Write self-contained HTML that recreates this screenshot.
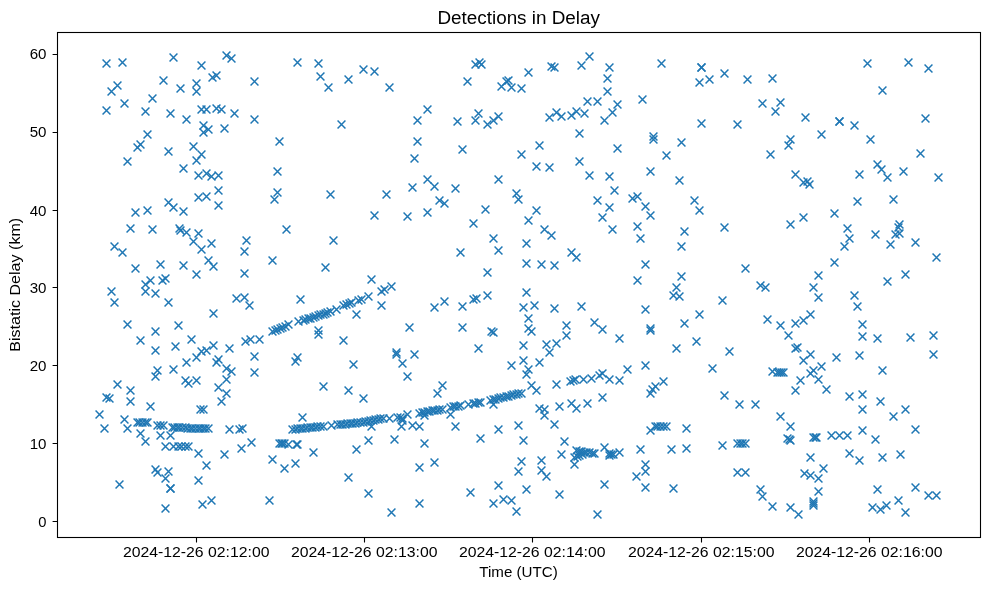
<!DOCTYPE html><html><head><meta charset="utf-8"><title>Detections in Delay</title><style>html,body{margin:0;padding:0;background:#fff}body{width:989px;height:590px;overflow:hidden;font-family:"Liberation Sans",sans-serif}</style></head><body><svg width="989" height="590" viewBox="0 0 989 590" style="display:block;will-change:transform"><rect width="989" height="590" fill="#fff"/><defs><path id="m" d="M-3.95 -3.95L3.95 3.95M-3.95 3.95L3.95 -3.95"/></defs><g stroke="#1f77b4" stroke-width="1.5" fill="none"><use href="#m" x="106.5" y="63.5"/><use href="#m" x="122.5" y="62.5"/><use href="#m" x="173.5" y="57.5"/><use href="#m" x="201.5" y="65.5"/><use href="#m" x="226.5" y="55.5"/><use href="#m" x="231.5" y="58.5"/><use href="#m" x="216.5" y="75.5"/><use href="#m" x="212.5" y="77.5"/><use href="#m" x="254.5" y="81.5"/><use href="#m" x="163.5" y="80.5"/><use href="#m" x="117.5" y="85.5"/><use href="#m" x="111.5" y="91.5"/><use href="#m" x="180.5" y="88.5"/><use href="#m" x="196.5" y="83.5"/><use href="#m" x="196.5" y="91.5"/><use href="#m" x="152.5" y="98.5"/><use href="#m" x="124.5" y="103.5"/><use href="#m" x="106.5" y="110.5"/><use href="#m" x="145.5" y="111.5"/><use href="#m" x="170.5" y="113.5"/><use href="#m" x="201.5" y="109.5"/><use href="#m" x="206.5" y="109.5"/><use href="#m" x="216.5" y="108.5"/><use href="#m" x="221.5" y="109.5"/><use href="#m" x="234.5" y="113.5"/><use href="#m" x="254.5" y="119.5"/><use href="#m" x="186.5" y="119.5"/><use href="#m" x="203.5" y="125.5"/><use href="#m" x="208.5" y="129.5"/><use href="#m" x="203.5" y="132.5"/><use href="#m" x="224.5" y="128.5"/><use href="#m" x="147.5" y="134.5"/><use href="#m" x="140.5" y="144.5"/><use href="#m" x="137.5" y="147.5"/><use href="#m" x="168.5" y="151.5"/><use href="#m" x="193.5" y="146.5"/><use href="#m" x="201.5" y="154.5"/><use href="#m" x="196.5" y="160.5"/><use href="#m" x="127.5" y="161.5"/><use href="#m" x="279.5" y="141.5"/><use href="#m" x="297.5" y="62.5"/><use href="#m" x="318.5" y="63.5"/><use href="#m" x="320.5" y="76.5"/><use href="#m" x="328.5" y="87.5"/><use href="#m" x="348.5" y="79.5"/><use href="#m" x="363.5" y="69.5"/><use href="#m" x="374.5" y="71.5"/><use href="#m" x="389.5" y="87.5"/><use href="#m" x="341.5" y="124.5"/><use href="#m" x="427.5" y="109.5"/><use href="#m" x="417.5" y="120.5"/><use href="#m" x="417.5" y="141.5"/><use href="#m" x="414.5" y="158.5"/><use href="#m" x="457.5" y="121.5"/><use href="#m" x="462.5" y="149.5"/><use href="#m" x="467.5" y="81.5"/><use href="#m" x="475.5" y="64.5"/><use href="#m" x="479.5" y="62.5"/><use href="#m" x="481.5" y="64.5"/><use href="#m" x="478.5" y="113.5"/><use href="#m" x="475.5" y="120.5"/><use href="#m" x="487.5" y="124.5"/><use href="#m" x="589.5" y="56.5"/><use href="#m" x="581.5" y="65.5"/><use href="#m" x="609.5" y="67.5"/><use href="#m" x="661.5" y="63.5"/><use href="#m" x="528.5" y="72.5"/><use href="#m" x="551.5" y="66.5"/><use href="#m" x="554.5" y="67.5"/><use href="#m" x="607.5" y="78.5"/><use href="#m" x="607.5" y="91.5"/><use href="#m" x="501.5" y="86.5"/><use href="#m" x="506.5" y="81.5"/><use href="#m" x="508.5" y="80.5"/><use href="#m" x="511.5" y="87.5"/><use href="#m" x="521.5" y="88.5"/><use href="#m" x="587.5" y="101.5"/><use href="#m" x="597.5" y="101.5"/><use href="#m" x="617.5" y="104.5"/><use href="#m" x="642.5" y="99.5"/><use href="#m" x="612.5" y="112.5"/><use href="#m" x="604.5" y="120.5"/><use href="#m" x="498.5" y="116.5"/><use href="#m" x="493.5" y="120.5"/><use href="#m" x="549.5" y="117.5"/><use href="#m" x="556.5" y="112.5"/><use href="#m" x="561.5" y="116.5"/><use href="#m" x="571.5" y="115.5"/><use href="#m" x="576.5" y="111.5"/><use href="#m" x="584.5" y="113.5"/><use href="#m" x="579.5" y="133.5"/><use href="#m" x="539.5" y="145.5"/><use href="#m" x="521.5" y="154.5"/><use href="#m" x="617.5" y="148.5"/><use href="#m" x="653.5" y="136.5"/><use href="#m" x="653.5" y="139.5"/><use href="#m" x="681.5" y="142.5"/><use href="#m" x="666.5" y="155.5"/><use href="#m" x="579.5" y="161.5"/><use href="#m" x="701.5" y="67.5"/><use href="#m" x="701.5" y="67.5"/><use href="#m" x="699.5" y="82.5"/><use href="#m" x="709.5" y="79.5"/><use href="#m" x="724.5" y="73.5"/><use href="#m" x="747.5" y="79.5"/><use href="#m" x="772.5" y="78.5"/><use href="#m" x="867.5" y="63.5"/><use href="#m" x="882.5" y="90.5"/><use href="#m" x="762.5" y="103.5"/><use href="#m" x="780.5" y="102.5"/><use href="#m" x="775.5" y="111.5"/><use href="#m" x="805.5" y="117.5"/><use href="#m" x="701.5" y="123.5"/><use href="#m" x="737.5" y="124.5"/><use href="#m" x="839.5" y="121.5"/><use href="#m" x="839.5" y="121.5"/><use href="#m" x="854.5" y="125.5"/><use href="#m" x="821.5" y="134.5"/><use href="#m" x="870.5" y="139.5"/><use href="#m" x="790.5" y="139.5"/><use href="#m" x="788.5" y="145.5"/><use href="#m" x="770.5" y="154.5"/><use href="#m" x="908.5" y="62.5"/><use href="#m" x="928.5" y="68.5"/><use href="#m" x="925.5" y="118.5"/><use href="#m" x="920.5" y="153.5"/><use href="#m" x="183.5" y="168.5"/><use href="#m" x="198.5" y="175.5"/><use href="#m" x="206.5" y="173.5"/><use href="#m" x="211.5" y="176.5"/><use href="#m" x="218.5" y="175.5"/><use href="#m" x="277.5" y="171.5"/><use href="#m" x="218.5" y="190.5"/><use href="#m" x="198.5" y="197.5"/><use href="#m" x="206.5" y="196.5"/><use href="#m" x="218.5" y="205.5"/><use href="#m" x="277.5" y="192.5"/><use href="#m" x="274.5" y="199.5"/><use href="#m" x="168.5" y="202.5"/><use href="#m" x="173.5" y="207.5"/><use href="#m" x="183.5" y="211.5"/><use href="#m" x="147.5" y="210.5"/><use href="#m" x="135.5" y="212.5"/><use href="#m" x="130.5" y="228.5"/><use href="#m" x="152.5" y="229.5"/><use href="#m" x="179.5" y="228.5"/><use href="#m" x="180.5" y="230.5"/><use href="#m" x="186.5" y="232.5"/><use href="#m" x="198.5" y="233.5"/><use href="#m" x="193.5" y="241.5"/><use href="#m" x="211.5" y="243.5"/><use href="#m" x="201.5" y="249.5"/><use href="#m" x="286.5" y="229.5"/><use href="#m" x="246.5" y="240.5"/><use href="#m" x="244.5" y="251.5"/><use href="#m" x="114.5" y="246.5"/><use href="#m" x="122.5" y="252.5"/><use href="#m" x="208.5" y="260.5"/><use href="#m" x="213.5" y="266.5"/><use href="#m" x="272.5" y="260.5"/><use href="#m" x="160.5" y="264.5"/><use href="#m" x="183.5" y="265.5"/><use href="#m" x="135.5" y="268.5"/><use href="#m" x="196.5" y="274.5"/><use href="#m" x="244.5" y="273.5"/><use href="#m" x="150.5" y="280.5"/><use href="#m" x="162.5" y="280.5"/><use href="#m" x="165.5" y="278.5"/><use href="#m" x="330.5" y="194.5"/><use href="#m" x="386.5" y="194.5"/><use href="#m" x="412.5" y="187.5"/><use href="#m" x="427.5" y="179.5"/><use href="#m" x="434.5" y="186.5"/><use href="#m" x="455.5" y="188.5"/><use href="#m" x="439.5" y="200.5"/><use href="#m" x="444.5" y="203.5"/><use href="#m" x="427.5" y="212.5"/><use href="#m" x="407.5" y="216.5"/><use href="#m" x="374.5" y="215.5"/><use href="#m" x="485.5" y="209.5"/><use href="#m" x="473.5" y="223.5"/><use href="#m" x="333.5" y="240.5"/><use href="#m" x="460.5" y="252.5"/><use href="#m" x="325.5" y="267.5"/><use href="#m" x="371.5" y="279.5"/><use href="#m" x="487.5" y="272.5"/><use href="#m" x="536.5" y="166.5"/><use href="#m" x="549.5" y="167.5"/><use href="#m" x="498.5" y="179.5"/><use href="#m" x="589.5" y="175.5"/><use href="#m" x="609.5" y="176.5"/><use href="#m" x="650.5" y="171.5"/><use href="#m" x="679.5" y="180.5"/><use href="#m" x="614.5" y="190.5"/><use href="#m" x="516.5" y="193.5"/><use href="#m" x="518.5" y="199.5"/><use href="#m" x="597.5" y="200.5"/><use href="#m" x="609.5" y="207.5"/><use href="#m" x="632.5" y="198.5"/><use href="#m" x="637.5" y="196.5"/><use href="#m" x="645.5" y="206.5"/><use href="#m" x="650.5" y="215.5"/><use href="#m" x="536.5" y="210.5"/><use href="#m" x="528.5" y="220.5"/><use href="#m" x="602.5" y="217.5"/><use href="#m" x="612.5" y="229.5"/><use href="#m" x="637.5" y="226.5"/><use href="#m" x="640.5" y="238.5"/><use href="#m" x="684.5" y="231.5"/><use href="#m" x="681.5" y="246.5"/><use href="#m" x="544.5" y="229.5"/><use href="#m" x="551.5" y="235.5"/><use href="#m" x="493.5" y="238.5"/><use href="#m" x="498.5" y="250.5"/><use href="#m" x="526.5" y="243.5"/><use href="#m" x="571.5" y="252.5"/><use href="#m" x="576.5" y="257.5"/><use href="#m" x="526.5" y="263.5"/><use href="#m" x="541.5" y="264.5"/><use href="#m" x="554.5" y="265.5"/><use href="#m" x="645.5" y="264.5"/><use href="#m" x="637.5" y="280.5"/><use href="#m" x="681.5" y="276.5"/><use href="#m" x="795.5" y="174.5"/><use href="#m" x="803.5" y="182.5"/><use href="#m" x="807.5" y="181.5"/><use href="#m" x="809.5" y="184.5"/><use href="#m" x="859.5" y="174.5"/><use href="#m" x="877.5" y="164.5"/><use href="#m" x="881.5" y="169.5"/><use href="#m" x="857.5" y="201.5"/><use href="#m" x="694.5" y="200.5"/><use href="#m" x="699.5" y="210.5"/><use href="#m" x="724.5" y="227.5"/><use href="#m" x="803.5" y="217.5"/><use href="#m" x="790.5" y="224.5"/><use href="#m" x="834.5" y="213.5"/><use href="#m" x="847.5" y="228.5"/><use href="#m" x="849.5" y="238.5"/><use href="#m" x="844.5" y="246.5"/><use href="#m" x="875.5" y="234.5"/><use href="#m" x="834.5" y="262.5"/><use href="#m" x="745.5" y="268.5"/><use href="#m" x="818.5" y="275.5"/><use href="#m" x="887.5" y="177.5"/><use href="#m" x="903.5" y="171.5"/><use href="#m" x="938.5" y="177.5"/><use href="#m" x="893.5" y="199.5"/><use href="#m" x="899.5" y="224.5"/><use href="#m" x="898.5" y="227.5"/><use href="#m" x="895.5" y="234.5"/><use href="#m" x="899.5" y="233.5"/><use href="#m" x="890.5" y="244.5"/><use href="#m" x="915.5" y="242.5"/><use href="#m" x="936.5" y="257.5"/><use href="#m" x="905.5" y="274.5"/><use href="#m" x="887.5" y="281.5"/><use href="#m" x="145.5" y="284.5"/><use href="#m" x="145.5" y="291.5"/><use href="#m" x="155.5" y="293.5"/><use href="#m" x="111.5" y="291.5"/><use href="#m" x="114.5" y="302.5"/><use href="#m" x="168.5" y="302.5"/><use href="#m" x="236.5" y="298.5"/><use href="#m" x="244.5" y="297.5"/><use href="#m" x="249.5" y="305.5"/><use href="#m" x="213.5" y="313.5"/><use href="#m" x="127.5" y="324.5"/><use href="#m" x="178.5" y="325.5"/><use href="#m" x="155.5" y="331.5"/><use href="#m" x="140.5" y="340.5"/><use href="#m" x="191.5" y="339.5"/><use href="#m" x="175.5" y="346.5"/><use href="#m" x="155.5" y="350.5"/><use href="#m" x="213.5" y="345.5"/><use href="#m" x="229.5" y="348.5"/><use href="#m" x="201.5" y="351.5"/><use href="#m" x="206.5" y="350.5"/><use href="#m" x="196.5" y="357.5"/><use href="#m" x="186.5" y="362.5"/><use href="#m" x="173.5" y="369.5"/><use href="#m" x="245.5" y="341.5"/><use href="#m" x="250.5" y="339.5"/><use href="#m" x="259.5" y="339.5"/><use href="#m" x="254.5" y="356.5"/><use href="#m" x="254.5" y="372.5"/><use href="#m" x="218.5" y="359.5"/><use href="#m" x="216.5" y="362.5"/><use href="#m" x="226.5" y="368.5"/><use href="#m" x="231.5" y="371.5"/><use href="#m" x="226.5" y="379.5"/><use href="#m" x="218.5" y="387.5"/><use href="#m" x="226.5" y="393.5"/><use href="#m" x="221.5" y="401.5"/><use href="#m" x="157.5" y="370.5"/><use href="#m" x="155.5" y="376.5"/><use href="#m" x="185.5" y="380.5"/><use href="#m" x="188.5" y="383.5"/><use href="#m" x="196.5" y="380.5"/><use href="#m" x="117.5" y="384.5"/><use href="#m" x="130.5" y="390.5"/><use href="#m" x="106.5" y="397.5"/><use href="#m" x="109.5" y="398.5"/><use href="#m" x="130.5" y="401.5"/><use href="#m" x="300.5" y="299.5"/><use href="#m" x="356.5" y="314.5"/><use href="#m" x="381.5" y="305.5"/><use href="#m" x="318.5" y="330.5"/><use href="#m" x="318.5" y="334.5"/><use href="#m" x="343.5" y="340.5"/><use href="#m" x="409.5" y="327.5"/><use href="#m" x="434.5" y="307.5"/><use href="#m" x="444.5" y="301.5"/><use href="#m" x="462.5" y="306.5"/><use href="#m" x="473.5" y="299.5"/><use href="#m" x="476.5" y="298.5"/><use href="#m" x="487.5" y="295.5"/><use href="#m" x="462.5" y="327.5"/><use href="#m" x="491.5" y="331.5"/><use href="#m" x="478.5" y="348.5"/><use href="#m" x="396.5" y="352.5"/><use href="#m" x="396.5" y="354.5"/><use href="#m" x="414.5" y="354.5"/><use href="#m" x="402.5" y="363.5"/><use href="#m" x="407.5" y="376.5"/><use href="#m" x="297.5" y="357.5"/><use href="#m" x="295.5" y="361.5"/><use href="#m" x="353.5" y="364.5"/><use href="#m" x="323.5" y="386.5"/><use href="#m" x="348.5" y="390.5"/><use href="#m" x="363.5" y="398.5"/><use href="#m" x="442.5" y="385.5"/><use href="#m" x="437.5" y="393.5"/><use href="#m" x="526.5" y="292.5"/><use href="#m" x="523.5" y="307.5"/><use href="#m" x="534.5" y="305.5"/><use href="#m" x="554.5" y="308.5"/><use href="#m" x="581.5" y="306.5"/><use href="#m" x="528.5" y="318.5"/><use href="#m" x="528.5" y="328.5"/><use href="#m" x="531.5" y="331.5"/><use href="#m" x="566.5" y="325.5"/><use href="#m" x="566.5" y="335.5"/><use href="#m" x="594.5" y="322.5"/><use href="#m" x="602.5" y="329.5"/><use href="#m" x="619.5" y="338.5"/><use href="#m" x="645.5" y="309.5"/><use href="#m" x="676.5" y="287.5"/><use href="#m" x="673.5" y="295.5"/><use href="#m" x="679.5" y="296.5"/><use href="#m" x="684.5" y="323.5"/><use href="#m" x="650.5" y="328.5"/><use href="#m" x="650.5" y="330.5"/><use href="#m" x="676.5" y="348.5"/><use href="#m" x="493.5" y="332.5"/><use href="#m" x="523.5" y="345.5"/><use href="#m" x="546.5" y="344.5"/><use href="#m" x="556.5" y="343.5"/><use href="#m" x="549.5" y="352.5"/><use href="#m" x="523.5" y="360.5"/><use href="#m" x="539.5" y="362.5"/><use href="#m" x="511.5" y="365.5"/><use href="#m" x="528.5" y="369.5"/><use href="#m" x="526.5" y="374.5"/><use href="#m" x="531.5" y="385.5"/><use href="#m" x="536.5" y="390.5"/><use href="#m" x="556.5" y="384.5"/><use href="#m" x="627.5" y="369.5"/><use href="#m" x="645.5" y="365.5"/><use href="#m" x="663.5" y="381.5"/><use href="#m" x="655.5" y="386.5"/><use href="#m" x="652.5" y="389.5"/><use href="#m" x="650.5" y="393.5"/><use href="#m" x="602.5" y="397.5"/><use href="#m" x="570.5" y="381.5"/><use href="#m" x="573.5" y="380.5"/><use href="#m" x="575.5" y="379.5"/><use href="#m" x="583.5" y="379.5"/><use href="#m" x="591.5" y="378.5"/><use href="#m" x="599.5" y="375.5"/><use href="#m" x="602.5" y="373.5"/><use href="#m" x="609.5" y="379.5"/><use href="#m" x="619.5" y="380.5"/><use href="#m" x="760.5" y="285.5"/><use href="#m" x="765.5" y="287.5"/><use href="#m" x="813.5" y="287.5"/><use href="#m" x="818.5" y="297.5"/><use href="#m" x="854.5" y="295.5"/><use href="#m" x="857.5" y="306.5"/><use href="#m" x="722.5" y="300.5"/><use href="#m" x="699.5" y="314.5"/><use href="#m" x="696.5" y="341.5"/><use href="#m" x="729.5" y="351.5"/><use href="#m" x="712.5" y="368.5"/><use href="#m" x="724.5" y="395.5"/><use href="#m" x="767.5" y="319.5"/><use href="#m" x="780.5" y="325.5"/><use href="#m" x="795.5" y="323.5"/><use href="#m" x="803.5" y="320.5"/><use href="#m" x="810.5" y="314.5"/><use href="#m" x="788.5" y="335.5"/><use href="#m" x="795.5" y="348.5"/><use href="#m" x="797.5" y="347.5"/><use href="#m" x="810.5" y="354.5"/><use href="#m" x="803.5" y="360.5"/><use href="#m" x="836.5" y="357.5"/><use href="#m" x="859.5" y="355.5"/><use href="#m" x="862.5" y="324.5"/><use href="#m" x="862.5" y="336.5"/><use href="#m" x="877.5" y="338.5"/><use href="#m" x="882.5" y="370.5"/><use href="#m" x="821.5" y="366.5"/><use href="#m" x="813.5" y="370.5"/><use href="#m" x="810.5" y="373.5"/><use href="#m" x="818.5" y="379.5"/><use href="#m" x="800.5" y="380.5"/><use href="#m" x="795.5" y="390.5"/><use href="#m" x="826.5" y="389.5"/><use href="#m" x="772.5" y="371.5"/><use href="#m" x="777.5" y="372.5"/><use href="#m" x="779.5" y="372.5"/><use href="#m" x="781.5" y="372.5"/><use href="#m" x="783.5" y="372.5"/><use href="#m" x="849.5" y="396.5"/><use href="#m" x="862.5" y="394.5"/><use href="#m" x="880.5" y="401.5"/><use href="#m" x="910.5" y="337.5"/><use href="#m" x="933.5" y="335.5"/><use href="#m" x="933.5" y="354.5"/><use href="#m" x="150.5" y="406.5"/><use href="#m" x="200.5" y="409.5"/><use href="#m" x="203.5" y="409.5"/><use href="#m" x="99.5" y="414.5"/><use href="#m" x="104.5" y="428.5"/><use href="#m" x="124.5" y="419.5"/><use href="#m" x="127.5" y="428.5"/><use href="#m" x="140.5" y="433.5"/><use href="#m" x="145.5" y="441.5"/><use href="#m" x="160.5" y="435.5"/><use href="#m" x="170.5" y="435.5"/><use href="#m" x="198.5" y="453.5"/><use href="#m" x="206.5" y="465.5"/><use href="#m" x="224.5" y="454.5"/><use href="#m" x="229.5" y="429.5"/><use href="#m" x="239.5" y="429.5"/><use href="#m" x="242.5" y="428.5"/><use href="#m" x="241.5" y="448.5"/><use href="#m" x="251.5" y="442.5"/><use href="#m" x="272.5" y="459.5"/><use href="#m" x="284.5" y="468.5"/><use href="#m" x="155.5" y="469.5"/><use href="#m" x="157.5" y="472.5"/><use href="#m" x="168.5" y="471.5"/><use href="#m" x="165.5" y="478.5"/><use href="#m" x="170.5" y="488.5"/><use href="#m" x="170.5" y="488.5"/><use href="#m" x="119.5" y="484.5"/><use href="#m" x="198.5" y="480.5"/><use href="#m" x="211.5" y="500.5"/><use href="#m" x="202.5" y="504.5"/><use href="#m" x="165.5" y="508.5"/><use href="#m" x="269.5" y="500.5"/><use href="#m" x="137.5" y="422.5"/><use href="#m" x="139.5" y="422.5"/><use href="#m" x="142.5" y="422.5"/><use href="#m" x="145.5" y="422.5"/><use href="#m" x="147.5" y="422.5"/><use href="#m" x="157.5" y="425.5"/><use href="#m" x="160.5" y="425.5"/><use href="#m" x="163.5" y="425.5"/><use href="#m" x="172.5" y="427.5"/><use href="#m" x="174.5" y="427.5"/><use href="#m" x="177.5" y="427.5"/><use href="#m" x="179.5" y="427.5"/><use href="#m" x="182.5" y="427.5"/><use href="#m" x="185.5" y="427.5"/><use href="#m" x="187.5" y="428.5"/><use href="#m" x="190.5" y="428.5"/><use href="#m" x="192.5" y="428.5"/><use href="#m" x="195.5" y="428.5"/><use href="#m" x="198.5" y="428.5"/><use href="#m" x="200.5" y="428.5"/><use href="#m" x="203.5" y="428.5"/><use href="#m" x="205.5" y="428.5"/><use href="#m" x="208.5" y="428.5"/><use href="#m" x="165.5" y="446.5"/><use href="#m" x="173.5" y="446.5"/><use href="#m" x="178.5" y="446.5"/><use href="#m" x="181.5" y="446.5"/><use href="#m" x="185.5" y="446.5"/><use href="#m" x="188.5" y="446.5"/><use href="#m" x="302.5" y="417.5"/><use href="#m" x="371.5" y="426.5"/><use href="#m" x="401.5" y="426.5"/><use href="#m" x="412.5" y="425.5"/><use href="#m" x="419.5" y="426.5"/><use href="#m" x="424.5" y="415.5"/><use href="#m" x="450.5" y="414.5"/><use href="#m" x="455.5" y="426.5"/><use href="#m" x="313.5" y="452.5"/><use href="#m" x="295.5" y="463.5"/><use href="#m" x="356.5" y="449.5"/><use href="#m" x="368.5" y="440.5"/><use href="#m" x="394.5" y="439.5"/><use href="#m" x="424.5" y="443.5"/><use href="#m" x="480.5" y="438.5"/><use href="#m" x="434.5" y="462.5"/><use href="#m" x="419.5" y="467.5"/><use href="#m" x="348.5" y="477.5"/><use href="#m" x="368.5" y="493.5"/><use href="#m" x="419.5" y="503.5"/><use href="#m" x="391.5" y="512.5"/><use href="#m" x="470.5" y="492.5"/><use href="#m" x="493.5" y="503.5"/><use href="#m" x="539.5" y="408.5"/><use href="#m" x="544.5" y="409.5"/><use href="#m" x="544.5" y="415.5"/><use href="#m" x="559.5" y="406.5"/><use href="#m" x="571.5" y="403.5"/><use href="#m" x="576.5" y="408.5"/><use href="#m" x="587.5" y="403.5"/><use href="#m" x="554.5" y="424.5"/><use href="#m" x="498.5" y="429.5"/><use href="#m" x="518.5" y="425.5"/><use href="#m" x="523.5" y="440.5"/><use href="#m" x="564.5" y="441.5"/><use href="#m" x="561.5" y="454.5"/><use href="#m" x="521.5" y="461.5"/><use href="#m" x="518.5" y="471.5"/><use href="#m" x="541.5" y="460.5"/><use href="#m" x="541.5" y="470.5"/><use href="#m" x="546.5" y="476.5"/><use href="#m" x="498.5" y="485.5"/><use href="#m" x="526.5" y="489.5"/><use href="#m" x="559.5" y="494.5"/><use href="#m" x="503.5" y="499.5"/><use href="#m" x="511.5" y="500.5"/><use href="#m" x="516.5" y="511.5"/><use href="#m" x="597.5" y="514.5"/><use href="#m" x="604.5" y="484.5"/><use href="#m" x="574.5" y="464.5"/><use href="#m" x="604.5" y="447.5"/><use href="#m" x="640.5" y="449.5"/><use href="#m" x="645.5" y="464.5"/><use href="#m" x="645.5" y="471.5"/><use href="#m" x="636.5" y="476.5"/><use href="#m" x="645.5" y="487.5"/><use href="#m" x="673.5" y="488.5"/><use href="#m" x="671.5" y="449.5"/><use href="#m" x="686.5" y="428.5"/><use href="#m" x="686.5" y="448.5"/><use href="#m" x="576.5" y="450.5"/><use href="#m" x="579.5" y="451.5"/><use href="#m" x="581.5" y="451.5"/><use href="#m" x="584.5" y="452.5"/><use href="#m" x="586.5" y="452.5"/><use href="#m" x="589.5" y="452.5"/><use href="#m" x="592.5" y="453.5"/><use href="#m" x="594.5" y="453.5"/><use href="#m" x="574.5" y="457.5"/><use href="#m" x="577.5" y="456.5"/><use href="#m" x="579.5" y="455.5"/><use href="#m" x="582.5" y="454.5"/><use href="#m" x="609.5" y="453.5"/><use href="#m" x="611.5" y="454.5"/><use href="#m" x="613.5" y="454.5"/><use href="#m" x="609.5" y="455.5"/><use href="#m" x="619.5" y="452.5"/><use href="#m" x="650.5" y="430.5"/><use href="#m" x="655.5" y="426.5"/><use href="#m" x="657.5" y="426.5"/><use href="#m" x="660.5" y="426.5"/><use href="#m" x="663.5" y="426.5"/><use href="#m" x="666.5" y="426.5"/><use href="#m" x="739.5" y="404.5"/><use href="#m" x="755.5" y="404.5"/><use href="#m" x="862.5" y="409.5"/><use href="#m" x="780.5" y="416.5"/><use href="#m" x="790.5" y="426.5"/><use href="#m" x="862.5" y="430.5"/><use href="#m" x="875.5" y="439.5"/><use href="#m" x="722.5" y="445.5"/><use href="#m" x="737.5" y="443.5"/><use href="#m" x="740.5" y="443.5"/><use href="#m" x="742.5" y="443.5"/><use href="#m" x="745.5" y="443.5"/><use href="#m" x="787.5" y="438.5"/><use href="#m" x="789.5" y="439.5"/><use href="#m" x="790.5" y="440.5"/><use href="#m" x="813.5" y="437.5"/><use href="#m" x="815.5" y="437.5"/><use href="#m" x="816.5" y="437.5"/><use href="#m" x="831.5" y="435.5"/><use href="#m" x="839.5" y="435.5"/><use href="#m" x="847.5" y="435.5"/><use href="#m" x="849.5" y="453.5"/><use href="#m" x="859.5" y="460.5"/><use href="#m" x="882.5" y="457.5"/><use href="#m" x="810.5" y="457.5"/><use href="#m" x="823.5" y="468.5"/><use href="#m" x="804.5" y="473.5"/><use href="#m" x="810.5" y="475.5"/><use href="#m" x="818.5" y="478.5"/><use href="#m" x="818.5" y="491.5"/><use href="#m" x="813.5" y="501.5"/><use href="#m" x="813.5" y="503.5"/><use href="#m" x="813.5" y="505.5"/><use href="#m" x="737.5" y="472.5"/><use href="#m" x="745.5" y="472.5"/><use href="#m" x="760.5" y="489.5"/><use href="#m" x="762.5" y="496.5"/><use href="#m" x="772.5" y="506.5"/><use href="#m" x="790.5" y="507.5"/><use href="#m" x="798.5" y="514.5"/><use href="#m" x="877.5" y="489.5"/><use href="#m" x="872.5" y="507.5"/><use href="#m" x="880.5" y="509.5"/><use href="#m" x="886.5" y="505.5"/><use href="#m" x="893.5" y="416.5"/><use href="#m" x="905.5" y="409.5"/><use href="#m" x="915.5" y="429.5"/><use href="#m" x="900.5" y="454.5"/><use href="#m" x="915.5" y="487.5"/><use href="#m" x="928.5" y="495.5"/><use href="#m" x="936.5" y="495.5"/><use href="#m" x="898.5" y="500.5"/><use href="#m" x="905.5" y="512.5"/><use href="#m" x="272.5" y="331.5"/><use href="#m" x="275.5" y="330.5"/><use href="#m" x="277.5" y="329.5"/><use href="#m" x="280.5" y="328.5"/><use href="#m" x="282.5" y="327.5"/><use href="#m" x="285.5" y="326.5"/><use href="#m" x="288.5" y="324.5"/><use href="#m" x="298.5" y="321.5"/><use href="#m" x="303.5" y="320.5"/><use href="#m" x="305.5" y="319.5"/><use href="#m" x="308.5" y="318.5"/><use href="#m" x="310.5" y="318.5"/><use href="#m" x="313.5" y="317.5"/><use href="#m" x="315.5" y="316.5"/><use href="#m" x="318.5" y="315.5"/><use href="#m" x="320.5" y="314.5"/><use href="#m" x="323.5" y="314.5"/><use href="#m" x="325.5" y="313.5"/><use href="#m" x="327.5" y="312.5"/><use href="#m" x="330.5" y="311.5"/><use href="#m" x="336.5" y="309.5"/><use href="#m" x="343.5" y="305.5"/><use href="#m" x="346.5" y="304.5"/><use href="#m" x="349.5" y="303.5"/><use href="#m" x="351.5" y="302.5"/><use href="#m" x="358.5" y="300.5"/><use href="#m" x="361.5" y="299.5"/><use href="#m" x="368.5" y="296.5"/><use href="#m" x="381.5" y="291.5"/><use href="#m" x="384.5" y="289.5"/><use href="#m" x="391.5" y="286.5"/><use href="#m" x="292.5" y="429.5"/><use href="#m" x="295.5" y="429.5"/><use href="#m" x="297.5" y="428.5"/><use href="#m" x="300.5" y="428.5"/><use href="#m" x="302.5" y="428.5"/><use href="#m" x="305.5" y="428.5"/><use href="#m" x="307.5" y="427.5"/><use href="#m" x="310.5" y="427.5"/><use href="#m" x="312.5" y="427.5"/><use href="#m" x="315.5" y="427.5"/><use href="#m" x="317.5" y="426.5"/><use href="#m" x="320.5" y="426.5"/><use href="#m" x="323.5" y="426.5"/><use href="#m" x="331.5" y="425.5"/><use href="#m" x="337.5" y="424.5"/><use href="#m" x="340.5" y="424.5"/><use href="#m" x="342.5" y="424.5"/><use href="#m" x="345.5" y="424.5"/><use href="#m" x="347.5" y="423.5"/><use href="#m" x="350.5" y="423.5"/><use href="#m" x="352.5" y="423.5"/><use href="#m" x="355.5" y="423.5"/><use href="#m" x="357.5" y="422.5"/><use href="#m" x="360.5" y="422.5"/><use href="#m" x="363.5" y="422.5"/><use href="#m" x="365.5" y="421.5"/><use href="#m" x="368.5" y="421.5"/><use href="#m" x="370.5" y="420.5"/><use href="#m" x="373.5" y="420.5"/><use href="#m" x="375.5" y="419.5"/><use href="#m" x="378.5" y="419.5"/><use href="#m" x="380.5" y="418.5"/><use href="#m" x="383.5" y="418.5"/><use href="#m" x="419.5" y="413.5"/><use href="#m" x="422.5" y="412.5"/><use href="#m" x="424.5" y="412.5"/><use href="#m" x="427.5" y="411.5"/><use href="#m" x="429.5" y="411.5"/><use href="#m" x="432.5" y="410.5"/><use href="#m" x="434.5" y="410.5"/><use href="#m" x="437.5" y="410.5"/><use href="#m" x="439.5" y="409.5"/><use href="#m" x="442.5" y="409.5"/><use href="#m" x="450.5" y="407.5"/><use href="#m" x="453.5" y="406.5"/><use href="#m" x="455.5" y="406.5"/><use href="#m" x="458.5" y="406.5"/><use href="#m" x="460.5" y="405.5"/><use href="#m" x="468.5" y="404.5"/><use href="#m" x="473.5" y="403.5"/><use href="#m" x="475.5" y="403.5"/><use href="#m" x="478.5" y="402.5"/><use href="#m" x="480.5" y="402.5"/><use href="#m" x="490.5" y="400.5"/><use href="#m" x="493.5" y="399.5"/><use href="#m" x="495.5" y="399.5"/><use href="#m" x="498.5" y="398.5"/><use href="#m" x="500.5" y="397.5"/><use href="#m" x="503.5" y="397.5"/><use href="#m" x="506.5" y="396.5"/><use href="#m" x="508.5" y="396.5"/><use href="#m" x="511.5" y="395.5"/><use href="#m" x="513.5" y="394.5"/><use href="#m" x="516.5" y="394.5"/><use href="#m" x="518.5" y="393.5"/><use href="#m" x="521.5" y="393.5"/><use href="#m" x="389.5" y="418.5"/><use href="#m" x="397.5" y="417.5"/><use href="#m" x="400.5" y="417.5"/><use href="#m" x="402.5" y="418.5"/><use href="#m" x="402.5" y="420.5"/><use href="#m" x="407.5" y="414.5"/><use href="#m" x="279.5" y="443.5"/><use href="#m" x="281.5" y="443.5"/><use href="#m" x="282.5" y="443.5"/><use href="#m" x="284.5" y="443.5"/><use href="#m" x="288.5" y="444.5"/><use href="#m" x="296.5" y="444.5"/><use href="#m" x="297.5" y="444.5"/><use href="#m" x="493.5" y="404.5"/></g><path d="M196.5 537.5v4.9M364.5 537.5v4.9M532.5 537.5v4.9M701.5 537.5v4.9M869.5 537.5v4.9M57.5 521.5h-4.9M57.5 443.5h-4.9M57.5 365.5h-4.9M57.5 287.5h-4.9M57.5 210.5h-4.9M57.5 132.5h-4.9M57.5 54.5h-4.9" stroke="#000" stroke-width="1.1" fill="none"/><rect x="57.5" y="32.5" width="923.0" height="505.0" fill="none" stroke="#000" stroke-width="1.1"/><g font-family="'Liberation Sans', sans-serif" fill="#000"><text x="196.2" y="557" font-size="14.3" text-anchor="middle" textLength="146.6" lengthAdjust="spacingAndGlyphs">2024-12-26 02:12:00</text><text x="364.2" y="557" font-size="14.3" text-anchor="middle" textLength="146.6" lengthAdjust="spacingAndGlyphs">2024-12-26 02:13:00</text><text x="532.2" y="557" font-size="14.3" text-anchor="middle" textLength="146.6" lengthAdjust="spacingAndGlyphs">2024-12-26 02:14:00</text><text x="701.2" y="557" font-size="14.3" text-anchor="middle" textLength="146.6" lengthAdjust="spacingAndGlyphs">2024-12-26 02:15:00</text><text x="869.2" y="557" font-size="14.3" text-anchor="middle" textLength="146.6" lengthAdjust="spacingAndGlyphs">2024-12-26 02:16:00</text><text x="38.3" y="526.5" font-size="14.3" textLength="8.2" lengthAdjust="spacingAndGlyphs">0</text><text x="29.7" y="448.5" font-size="14.3" textLength="16.8" lengthAdjust="spacingAndGlyphs">10</text><text x="29.7" y="370.5" font-size="14.3" textLength="16.8" lengthAdjust="spacingAndGlyphs">20</text><text x="29.7" y="293.0" font-size="14.3" textLength="16.8" lengthAdjust="spacingAndGlyphs">30</text><text x="29.7" y="215.5" font-size="14.3" textLength="16.8" lengthAdjust="spacingAndGlyphs">40</text><text x="29.7" y="137.1" font-size="14.3" textLength="16.8" lengthAdjust="spacingAndGlyphs">50</text><text x="29.7" y="59.0" font-size="14.3" textLength="16.8" lengthAdjust="spacingAndGlyphs">60</text><text x="437.4" y="23.9" font-size="18.0" textLength="162.6" lengthAdjust="spacingAndGlyphs">Detections in Delay</text><text x="479.3" y="576.7" font-size="14.3" textLength="78.4" lengthAdjust="spacingAndGlyphs">Time (UTC)</text><text transform="translate(20.4 351.8) rotate(-90)" font-size="14.3" textLength="134" lengthAdjust="spacingAndGlyphs">Bistatic Delay (km)</text></g></svg></body></html>
